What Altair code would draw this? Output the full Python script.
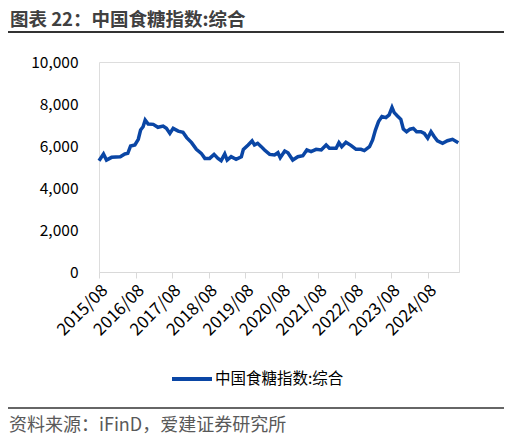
import pandas as pd
import altair as alt

# values
dates = [
    "2015-08-01", "2015-09-15", "2015-10-15", "2015-12-05", "2016-03-01",
    "2016-04-15", "2016-05-15", "2016-06-12", "2016-07-25", "2016-08-28",
    "2016-09-20", "2016-10-15", "2016-11-05", "2016-12-05", "2017-01-25",
    "2017-03-12", "2017-05-03", "2017-06-05", "2017-07-10", "2017-08-12",
    "2017-10-01", "2017-11-18", "2017-12-25", "2018-02-12", "2018-04-01",
    "2018-05-20", "2018-06-25", "2018-08-12", "2018-09-25", "2018-11-03",
    "2018-12-05", "2019-01-10", "2019-02-03", "2019-03-15", "2019-05-03",
    "2019-06-25", "2019-07-15", "2019-09-01", "2019-10-10", "2019-11-03",
    "2019-12-05", "2020-01-10", "2020-02-12", "2020-04-03", "2020-05-22",
    "2020-06-25", "2020-07-18", "2020-09-01", "2020-10-03", "2020-11-20",
    "2021-01-10", "2021-03-01", "2021-04-10", "2021-05-22", "2021-07-12",
    "2021-09-01", "2021-10-20", "2021-11-22", "2022-01-28", "2022-02-25",
    "2022-03-25", "2022-05-06", "2022-06-28", "2022-08-15", "2022-10-03",
    "2022-11-06", "2022-12-28", "2023-01-28", "2023-02-25", "2023-03-28",
    "2023-05-01", "2023-06-10", "2023-07-12", "2023-08-10", "2023-09-01",
    "2023-10-03", "2023-11-06", "2023-12-01", "2024-01-03", "2024-02-06",
    "2024-03-10", "2024-04-12", "2024-05-25", "2024-06-28", "2024-08-01",
    "2024-09-03", "2024-10-06", "2024-11-06", "2024-12-28", "2025-02-15",
    "2025-04-06", "2025-06-03",
]
values = [
    5300, 5620, 5330, 5460, 5490,
    5620, 5650, 6000, 6050, 6320,
    6760, 6920, 7240, 7050, 7030,
    6890, 6950, 6840, 6600, 6840,
    6710, 6650, 6400, 6160, 5840,
    5650, 5410, 5410, 5600, 5410,
    5300, 5620, 5330, 5490, 5370,
    5490, 5840, 6050, 6240, 6050,
    6130, 5970, 5810, 5600, 5570,
    5680, 5440, 5760, 5680, 5330,
    5490, 5540, 5810, 5730, 5840,
    5810, 6050, 5890, 5890, 6160,
    5970, 6180, 6020, 5840, 5840,
    5780, 5970, 6290, 6760, 7160,
    7400, 7350, 7480, 7840, 7590,
    7430, 7270, 6810, 6680, 6800,
    6840, 6680, 6680, 6600, 6370,
    6680, 6440, 6250, 6130, 6250,
    6320, 6160,
]
series_name = "中国食糖指数:综合"
tick_years = list(range(2015, 2025))
y_ticks = [0, 2000, 4000, 6000, 8000, 10000]

title_text = "图表 22：中国食糖指数:综合"
source_text = "资料来源：iFinD，爱建证券研究所"

FONT = "Noto Sans CJK SC"
BLUE = "#0A46A5"

df = pd.DataFrame({
    "date": [d + "T00:00:00" for d in dates],
    "value": values,
    "series": series_name,
})

line = (
    alt.Chart(df)
    .mark_line(strokeWidth=3.5)
    .encode(
        x=alt.X(
            "date:T",
            title=None,
            scale=alt.Scale(
                domain=[
                    alt.DateTime(year=2015, month=8, date=1),
                    alt.DateTime(year=2025, month=6, date=10),
                ],
                nice=False,
            ),
            axis=alt.Axis(
                values=[alt.DateTime(year=y, month=8, date=1) for y in tick_years],
                format="%Y/%m",
                labelAngle=-45,
                labelFontSize=17,
                labelColor="#000000",
                labelPadding=4,
                labelOverlap=False,
                labelBound=False,
                labelFlush=False,
                grid=False,
                domainColor="#d9d9d9",
                tickColor="#d9d9d9",
                tickSize=6,
            ),
        ),
        y=alt.Y(
            "value:Q",
            title=None,
            scale=alt.Scale(domain=[0, 10000], nice=False),
            axis=alt.Axis(
                values=y_ticks,
                format=",.0f",
                labelFontSize=15.5,
                labelColor="#000000",
                labelPadding=21,
                grid=False,
                domain=False,
                ticks=False,
            ),
        ),
        color=alt.Color(
            "series:N",
            scale=alt.Scale(range=[BLUE]),
            legend=alt.Legend(
                title=None,
                orient="none",
                legendX=71,
                legendY=295,
                symbolType="stroke",
                symbolStrokeWidth=4,
                symbolSize=1600,
                labelFontSize=15.5,
                labelColor="#000000",
                labelOffset=1,
            ),
        ),
    )
)

title = (
    alt.Chart(pd.DataFrame({"t": [title_text]}))
    .mark_text(align="left", baseline="middle", fontSize=18.5, fontWeight="bold", color="#404040", font=FONT)
    .encode(x=alt.value(-89), y=alt.value(-42), text="t:N")
)
top_rule = (
    alt.Chart(pd.DataFrame({"t": [0]}))
    .mark_rule(color="#333333", strokeWidth=2)
    .encode(x=alt.value(-91), x2=alt.value(405), y=alt.value(-30))
)
bottom_rule = (
    alt.Chart(pd.DataFrame({"t": [0]}))
    .mark_rule(color="#333333", strokeWidth=1.5)
    .encode(x=alt.value(-91), x2=alt.value(405), y=alt.value(346))
)
source = (
    alt.Chart(pd.DataFrame({"t": [source_text]}))
    .mark_text(align="left", baseline="middle", fontSize=18, color="#595959", font=FONT)
    .encode(x=alt.value(-90), y=alt.value(364), text="t:N")
)

chart = (
    alt.layer(line, title, top_rule, bottom_rule, source)
    .properties(
        width=360,
        height=210,
        autosize=alt.AutoSizeParams(type="none"),
        padding={"left": 91, "top": 54, "right": 45, "bottom": 167},
    )
    .configure_view(stroke=None)
    .configure(font=FONT)
)

chart.save("out.html", embed_options={"renderer": "svg", "actions": False})
